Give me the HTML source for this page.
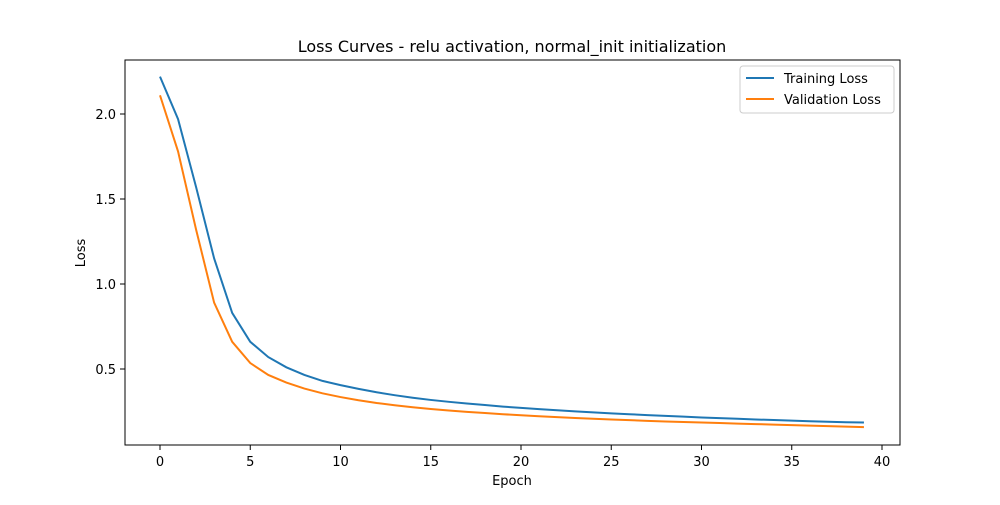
<!DOCTYPE html>
<html><head><meta charset="utf-8"><style>
body{margin:0;background:#fff}
svg text{font-family:"DejaVu Sans","Liberation Sans",sans-serif;fill:#000}
</style></head><body>
<svg id="c" width="1000" height="500" xmlns="http://www.w3.org/2000/svg">
<rect width="1000" height="500" fill="#fff"/>
<text x="512" y="52" font-size="16" text-anchor="middle">Loss Curves - relu activation, normal_init initialization</text>
<g id="ticks"></g>
<g id="lines"></g>
<rect x="125" y="60" width="775" height="385" fill="none" stroke="#000" stroke-width="1"/>
<text x="512" y="485" font-size="13" text-anchor="middle">Epoch</text>
<text x="85" y="253" font-size="13" text-anchor="middle" transform="rotate(-90 85 253)">Loss</text>
<g>
<rect x="740" y="66" width="154" height="47" rx="3" fill="#fff" stroke="#ccc"/>
<line x1="746" y1="78" x2="774" y2="78" stroke="#1f77b4" stroke-width="2"/>
<text x="784" y="83" font-size="13">Training Loss</text>
<line x1="746" y1="99" x2="774" y2="99" stroke="#ff7f0e" stroke-width="2"/>
<text x="784" y="104" font-size="13">Validation Loss</text>
</g>
</svg>
<script>
const trainLoss=[2.22,1.97,1.57,1.15,0.83,0.66,0.57,0.51,0.465,0.43,0.405,0.383,0.363,0.346,0.331,0.318,0.307,0.297,0.288,0.279,0.271,0.264,0.257,0.251,0.245,0.239,0.234,0.229,0.224,0.22,0.215,0.211,0.207,0.203,0.2,0.196,0.193,0.19,0.187,0.185];
const valLoss=[2.11,1.78,1.32,0.89,0.66,0.535,0.465,0.42,0.385,0.357,0.335,0.316,0.3,0.287,0.275,0.265,0.256,0.248,0.241,0.234,0.228,0.222,0.217,0.212,0.207,0.203,0.199,0.195,0.191,0.188,0.185,0.182,0.179,0.176,0.173,0.17,0.167,0.164,0.161,0.158];
const xTicks=[0,5,10,15,20,25,30,35,40];
const yTicks=[0.5,1.0,1.5,2.0];
const NS="http://www.w3.org/2000/svg";
const xs=v=>160+v*(882-160)/40;
const ys=v=>454-v*170;
const tg=document.getElementById('ticks'),lg=document.getElementById('lines');
function mk(t,a,p){const e=document.createElementNS(NS,t);for(const k in a)e.setAttribute(k,a[k]);p.appendChild(e);return e;}
xTicks.forEach(t=>{
 const l=mk('line',{x1:xs(t),x2:xs(t),y1:445,y2:450,stroke:'#000'},tg);
 
 
 const tx=mk('text',{x:xs(t),y:466,'font-size':13,'text-anchor':'middle'},tg);tx.textContent=t;
 
 
});
yTicks.forEach(t=>{
 const l=mk('line',{x1:120,x2:125,y1:ys(t),y2:ys(t),stroke:'#000'},tg);
 
 
 const tx=mk('text',{x:116,y:ys(t)+5,'font-size':13,'text-anchor':'end'},tg);tx.textContent=t.toFixed(1);
 
 
});
function line(d,c,n){
 const p=mk('polyline',{points:d.map((v,i)=>xs(i)+','+ys(v)).join(' '),fill:'none',stroke:c,'stroke-width':2},lg);
 
 
}
line(trainLoss,'#1f77b4','training-loss-line');
line(valLoss,'#ff7f0e','validation-loss-line');
</script>
</body></html>
